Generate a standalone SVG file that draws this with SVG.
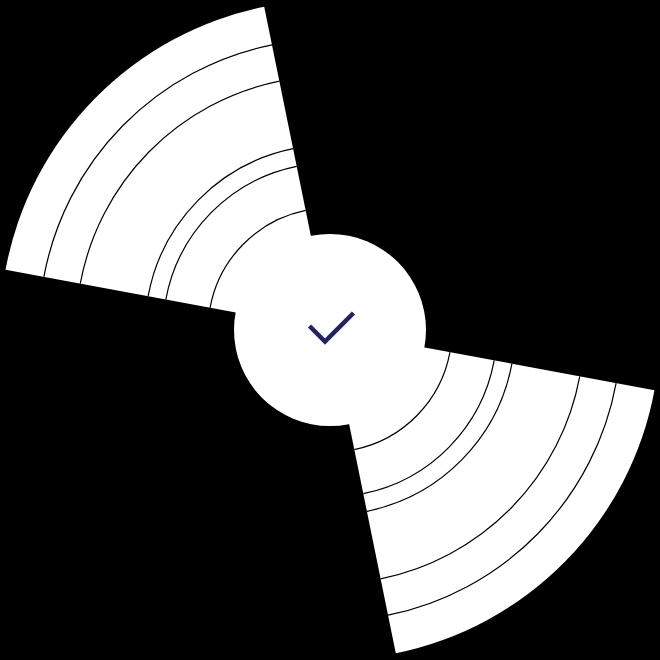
<svg xmlns="http://www.w3.org/2000/svg" width="660" height="660" viewBox="0 0 660 660">
  <style>
    .sector { fill: #ffffff; }
    .groove { fill: none; stroke: #000000; stroke-width: 1.2; }
    .hub { fill: #ffffff; }
    .check { fill: none; stroke: #22225e; stroke-width: 4.5; stroke-linecap: butt; stroke-linejoin: miter; }
  </style>
  <rect x="0" y="0" width="660" height="660" fill="#000000"/>
  <g id="sector-upper-left">
    <path class="sector" d="M330 330 L5.53 269.86 A330 330 0 0 1 264.21 6.63 Z"/>
    <path class="groove" d="M210.04 307.77 A122 122 0 0 1 305.68 210.45"/>
    <path class="groove" d="M165.80 299.57 A167 167 0 0 1 296.71 166.35"/>
    <path class="groove" d="M148.10 296.29 A185 185 0 0 1 293.12 148.71"/>
    <path class="groove" d="M80.25 283.71 A254 254 0 0 1 279.36 81.10"/>
    <path class="groove" d="M43.87 276.97 A291 291 0 0 1 271.98 44.84"/>
  </g>
  <g id="sector-lower-right">
    <path class="sector" d="M330 330 L654.47 390.14 A330 330 0 0 1 395.79 653.37 Z"/>
    <path class="groove" d="M449.96 352.23 A122 122 0 0 1 354.32 449.55"/>
    <path class="groove" d="M494.20 360.43 A167 167 0 0 1 363.29 493.65"/>
    <path class="groove" d="M511.90 363.71 A185 185 0 0 1 366.88 511.29"/>
    <path class="groove" d="M579.75 376.29 A254 254 0 0 1 380.64 578.90"/>
    <path class="groove" d="M616.13 383.03 A291 291 0 0 1 388.02 615.16"/>
  </g>
  <g id="hub">
    <circle class="hub" cx="330" cy="330" r="96"/>
    <path class="check" d="M309.5 326 L325 341.6 L353.5 313"/>
  </g>
</svg>
